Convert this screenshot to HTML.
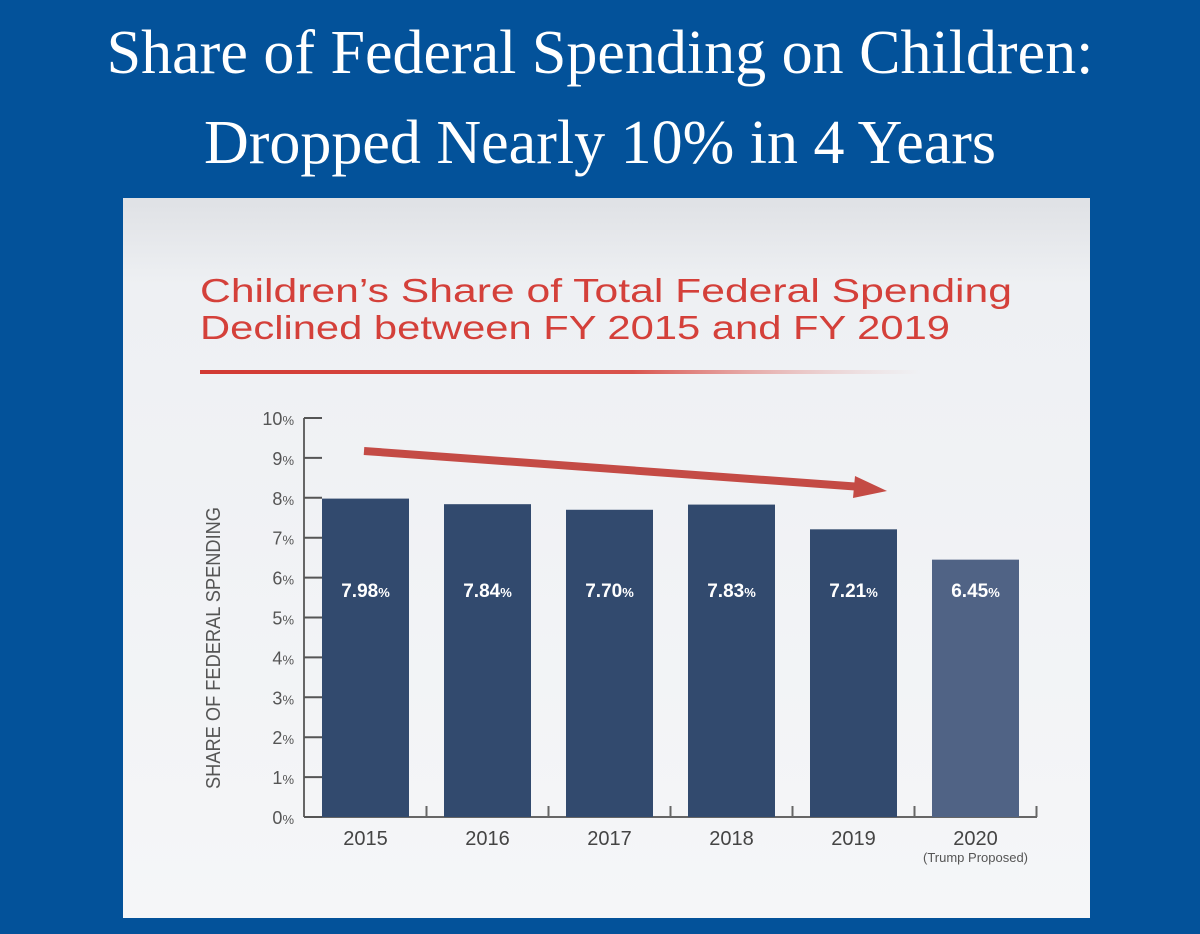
<!DOCTYPE html>
<html><head><meta charset="utf-8"><style>
html,body{margin:0;padding:0;width:1200px;height:934px;overflow:hidden;background:#03529a;}
.h{position:absolute;left:0;width:1200px;text-align:center;color:#fff;font-family:"Liberation Serif",serif;font-size:62px;line-height:1;}
</style></head><body>
<div class="h" style="top:22px">Share of Federal Spending on Children:</div>
<div class="h" style="top:112px">Dropped Nearly 10% in 4 Years</div>
<svg id="chart" width="1200" height="934" style="position:absolute;left:0;top:0">
<defs>
<linearGradient id="pg" x1="0" y1="0" x2="0" y2="1"><stop offset="0" stop-color="#dfe1e5"/><stop offset="0.12" stop-color="#eef0f3"/><stop offset="1" stop-color="#f5f6f8"/></linearGradient>
<linearGradient id="ul" x1="0" y1="0" x2="1" y2="0"><stop offset="0" stop-color="#d23a33"/><stop offset="0.6" stop-color="#d9534c"/><stop offset="1" stop-color="#e8b0ad" stop-opacity="0"/></linearGradient>
</defs>
<rect x="123" y="198" width="967" height="720" fill="url(#pg)"/>
<text x="200" y="302" font-family="Liberation Sans,sans-serif" font-size="33" fill="#d4403a" textLength="812" lengthAdjust="spacingAndGlyphs">Children’s Share of Total Federal Spending</text>
<text x="200" y="339" font-family="Liberation Sans,sans-serif" font-size="33" fill="#d4403a" textLength="750" lengthAdjust="spacingAndGlyphs">Declined between FY 2015 and FY 2019</text>
<rect x="200" y="370" width="720" height="4" fill="url(#ul)"/>
<text transform="translate(220,648) rotate(-90)" text-anchor="middle" font-family="Liberation Sans,sans-serif" font-size="20" fill="#555" textLength="282" lengthAdjust="spacingAndGlyphs">SHARE OF FEDERAL SPENDING</text>
<g id="axes"></g><g id="bars"></g>
<line x1="364" y1="451" x2="862" y2="487" stroke="#c44b45" stroke-width="8"/>
<polygon points="887,491 855,476 853,498" fill="#c44b45"/>
</svg>
<script>
const categories=["2015","2016","2017","2018","2019","2020"];
const values=[7.98,7.84,7.70,7.83,7.21,6.45];
const valueLabels=["7.98","7.84","7.70","7.83","7.21","6.45"];
const yTicks=[0,1,2,3,4,5,6,7,8,9,10];
const NS="http://www.w3.org/2000/svg";
const y0=817,pxPer=39.9,ax=304,x0=322,pitch=122,bw=87;
const y=v=>y0-v*pxPer;
const x=i=>x0+i*pitch;
function mk(t,a,p){const e=document.createElementNS(NS,t);for(const k in a)e.setAttribute(k,a[k]);p.appendChild(e);return e;}
const axes=document.getElementById('axes'),bars=document.getElementById('bars');
const yl=mk('line',{x1:ax,y1:y(10),x2:ax,y2:y0,stroke:'#666','stroke-width':2},axes);


const xl=mk('line',{x1:ax,y1:y0,x2:x(categories.length)-(pitch-bw)+18,y2:y0,stroke:'#666','stroke-width':2},axes);


yTicks.forEach(t=>{
 const l=mk('line',{x1:ax,y1:y(t),x2:x0,y2:y(t),stroke:'#555','stroke-width':2},axes);
 
 
 const tx=mk('text',{x:ax-10,y:y(t)+7,'text-anchor':'end','font-family':'Liberation Sans,sans-serif','font-size':18,fill:'#555'},axes);
 tx.innerHTML=t+'<tspan font-size="13">%</tspan>';
 
 
});
for(let i=1;i<=categories.length;i++){
 const tx=x(i)-(pitch-bw)/2;
 const l=mk('line',{x1:tx,y1:y0-11,x2:tx,y2:y0,stroke:'#666','stroke-width':2},axes);
 
 
}
categories.forEach((c,i)=>{
 const r=mk('rect',{x:x(i),y:y(values[i]),width:bw,height:y0-y(values[i]),fill:i===5?'#506385':'#324a6e'},bars);
 
 
 const cx=x(i)+bw/2;
 const vt=mk('text',{x:cx,y:597,'text-anchor':'middle','font-family':'Liberation Sans,sans-serif','font-size':19,'font-weight':'bold',fill:'#fff'},bars);
 vt.innerHTML=valueLabels[i]+'<tspan font-size="13">%</tspan>';
 
 
 const ct=mk('text',{x:cx,y:845,'text-anchor':'middle','font-family':'Liberation Sans,sans-serif','font-size':20,fill:'#444'},bars);
 ct.textContent=c;
 
 
});
const tp=mk('text',{x:x(5)+bw/2,y:862,'text-anchor':'middle','font-family':'Liberation Sans,sans-serif','font-size':13,fill:'#555'},bars);
tp.textContent='(Trump Proposed)';


</script>
</body></html>
